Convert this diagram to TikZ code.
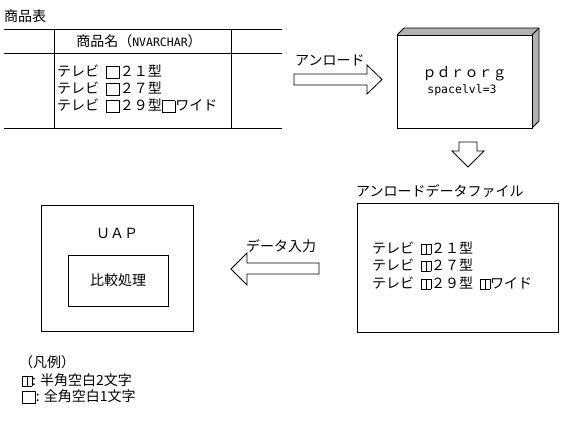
\documentclass[tikz,border=0pt]{standalone}
\usepackage{fontspec}
\setmainfont{Noto Sans CJK JP}
\newfontfamily\lat{DejaVu Sans Mono}
\newcommand\hsp{\raisebox{-0.08em}{\fboxsep0pt\fboxrule0.5pt\fbox{\rule{0pt}{0.72em}\hspace{0.3em}}}}
\newcommand\hpair{\hsp\kern-0.5pt\hsp}
\newcommand\fsp{\raisebox{-0.1em}{\fboxsep0pt\fboxrule0.5pt\fbox{\rule{0pt}{0.82em}\hspace{0.9em}}}}
\newcommand\hs{\hspace{0.5em}}
\tikzset{
  txt/.style={inner sep=0pt, font=\fontsize{14}{16}\selectfont},
  ln/.style={line width=0.8pt},
  blk/.style={draw, line width=0.8pt, fill=white},
}
\begin{document}
\begin{tikzpicture}[x=1pt,y=-1pt]
\useasboundingbox (0,0) rectangle (562,423);
% table
\node[txt,anchor=west] (title) at (4,16) {商品表};
\draw[ln] (4,29) -- (282,29);
\draw[ln] (4,53) -- (282,53);
\draw[ln] (4,128) -- (282,128);
\draw[ln] (54,29) -- (54,128);
\draw[ln] (231,29) -- (231,128);
\node[txt] (hdr) at (139,41) {商品名（{\lat\fontsize{11.5}{13}\selectfont NVARCHAR}）};
\node[txt,anchor=west] (r1) at (57,72) {テレビ\hs\fsp２１型};
\node[txt,anchor=west] (r2) at (57,89) {テレビ\hs\fsp２７型};
\node[txt,anchor=west] (r3) at (57,106) {テレビ\hs\fsp２９型\fsp ワイド};
% unload arrow
\draw[blk] (294,74) -- (367,74) -- (367,65) -- (382,79.5) -- (367,94) -- (367,85) -- (294,85) -- cycle;
\node[txt,anchor=west] (unl) at (295,60) {アンロード};
% pdrorg 3D box
\fill[gray!60] (397,35) -- (404,28) -- (539,28) -- (539,121) -- (532,128) -- (532,35) -- cycle;
\draw[ln] (397,35) -- (404,28) -- (539,28) -- (539,121) -- (532,128);
\draw[ln] (532,35) -- (539,28);
\draw[ln,fill=white] (397,35) rectangle (532,128);
\node[txt] (pd) at (464.5,74) {ｐｄｒｏｒｇ};
\node[txt,font=\lat\fontsize{11.5}{13}\selectfont] (sp) at (462,90) {spacelvl=3};
% down arrow
\draw[blk] (459,142) -- (477,142) -- (477,151) -- (484,151) -- (468,167) -- (452,151) -- (459,151) -- cycle;
% unload data file
\node[txt,anchor=west] (udf) at (356,191) {アンロードデータファイル};
\draw[ln] (357,203) rectangle (558,332);
\node[txt,anchor=west] (f1) at (372,248) {テレビ\hs\hpair２１型};
\node[txt,anchor=west] (f2) at (372,265) {テレビ\hs\hpair２７型};
\node[txt,anchor=west] (f3) at (372,283) {テレビ\hs\hpair２９型\hs\hpair ワイド};
% data input arrow
\draw[blk] (319,263) -- (247,263) -- (247,253) -- (231,269) -- (247,285) -- (247,274) -- (319,274) -- cycle;
\node[txt,anchor=west] (din) at (246,246) {データ入力};
% UAP
\draw[ln] (41,205) rectangle (193,331);
\node[txt] (uap) at (117,233) {ＵＡＰ};
\draw[ln] (68,255) rectangle (168,306);
\node[txt] (cmp) at (118,280) {比較処理};
% legend
\node[txt,anchor=west] (lg) at (19,362) {（凡例）};
\node[txt,anchor=west] (lg1) at (22,380) {\hpair: 半角空白2文字};
\node[txt,anchor=west] (lg2) at (22,397) {\fsp: 全角空白1文字};
\end{tikzpicture}
\end{document}
